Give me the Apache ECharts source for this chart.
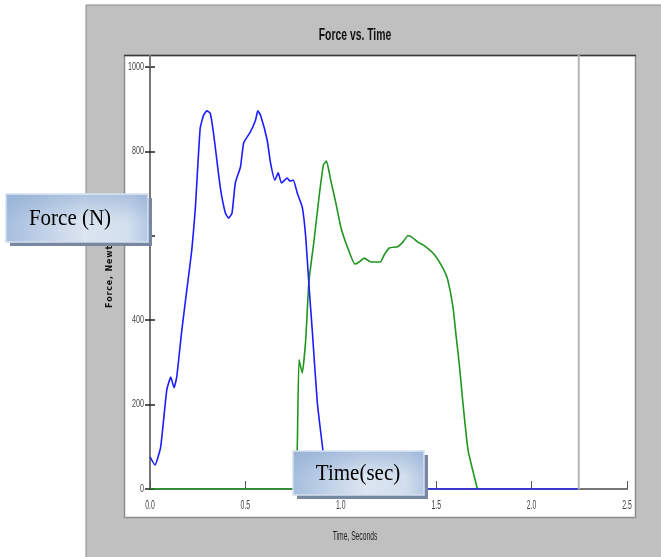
<!DOCTYPE html>
<html>
<head>
<meta charset="utf-8">
<script src="https://cdn.jsdelivr.net/npm/echarts@6/dist/echarts.min.js"></script>
<style>
html,body{margin:0;padding:0;background:#fff;}
#chart{width:661px;height:557px;}
</style>
</head>
<body>
<div id="chart"></div>
<script>
// ---- data ----
const blueTime  = [0, 0.026, 0.056, 0.088, 0.109, 0.126, 0.14, 0.167, 0.193, 0.219, 0.237, 0.263, 0.281, 0.298, 0.316, 0.333, 0.368, 0.395, 0.412, 0.43, 0.447, 0.474, 0.491, 0.526, 0.553, 0.565, 0.579, 0.614, 0.632, 0.654, 0.672, 0.689, 0.719, 0.733, 0.751, 0.772, 0.798, 0.816, 0.833, 0.851, 0.877, 0.904, 0.92, 0.94, 0.96, 2.242];
const blueForce = [76, 57, 100, 235, 265, 240, 265, 377, 472, 566, 661, 855, 886, 896, 890, 843, 716, 654, 642, 654, 725, 763, 820, 846, 874, 896, 886, 827, 772, 732, 749, 725, 737, 730, 732, 701, 668, 598, 484, 372, 204, 100, 40, 5, 0, 0];
const greenTime  = [0, 0.766, 0.772, 0.781, 0.798, 0.816, 0.833, 0.86, 0.886, 0.909, 0.925, 0.947, 0.974, 1.0, 1.035, 1.074, 1.096, 1.123, 1.158, 1.207, 1.228, 1.254, 1.298, 1.325, 1.351, 1.372, 1.404, 1.439, 1.491, 1.54, 1.561, 1.588, 1.605, 1.62, 1.64, 1.667, 1.716];
const greenForce = [0, 0, 100, 306, 275, 353, 492, 590, 692, 768, 777, 732, 678, 621, 573, 533, 538, 547, 538, 538, 555, 571, 574, 585, 600, 597, 585, 576, 555, 519, 495, 431, 360, 300, 204, 92, 0];
const cursorTime = 2.242;
const xTickValues = [0, 0.5, 1.0, 1.5, 2.0, 2.5];
const xTickLabels = ['0.0', '0.5', '1.0', '1.5', '2.0', '2.5'];
const yTickValues = [0, 200, 400, 600, 800, 1000];
const yTickLabels = ['0', '200', '400', '600', '800', '1000'];
const titleText = 'Force vs. Time';
const xName = 'Time, Seconds';
const yName = 'Force, Newtons';
const calloutY = 'Force (N)';
const calloutX = 'Time(sec)';

const SANS = '"Liberation Sans", Arial, sans-serif';
const SERIF = '"Liberation Serif", "Times New Roman", serif';

const chart = echarts.init(document.getElementById('chart'));

function pairs(xs, ys) { return xs.map((x, i) => [x, ys[i]]); }

const xMin = xTickValues[0], xMax = xTickValues[xTickValues.length - 1];
const yMin = yTickValues[0], yMax = yTickValues[yTickValues.length - 1];

chart.setOption({
  animation: false,
  backgroundColor: '#ffffff',
  grid: { left: 150, right: 34, top: 67, bottom: 68, containLabel: false },
  xAxis: [{
    type: 'value', min: xMin, max: xMax, interval: xTickValues[1] - xTickValues[0],
    axisLine: { show: true, onZero: false, lineStyle: { color: '#777', width: 2 } },
    axisTick: { show: true, inside: true, length: 8, lineStyle: { color: '#555', width: 1 } },
    axisLabel: { show: false },
    splitLine: { show: false }
  }],
  yAxis: [{
    type: 'value', min: yMin, max: yMax, interval: yTickValues[1] - yTickValues[0],
    axisLine: { show: true, lineStyle: { color: '#777', width: 2 } },
    axisTick: { show: true, inside: false, length: 5, lineStyle: { color: '#222', width: 1.5 } },
    axisLabel: { show: false },
    splitLine: { show: false }
  }, {
    type: 'value', min: yMin, max: yMax, interval: yTickValues[1] - yTickValues[0], position: 'left',
    axisLine: { show: false },
    axisTick: { show: true, inside: true, length: 5, lineStyle: { color: '#222', width: 1.5 } },
    axisLabel: { show: false },
    splitLine: { show: false }
  }],
  series: [{
    type: 'line', name: 'green', data: pairs(greenTime, greenForce),
    showSymbol: false, symbol: 'none', smooth: 0.15, z: 3,
    lineStyle: { color: '#1e961e', width: 1.6 }
  }, {
    type: 'line', name: 'blue', data: pairs(blueTime, blueForce),
    showSymbol: false, symbol: 'none', smooth: 0.15, z: 4,
    lineStyle: { color: '#1c1cff', width: 1.6 }
  }]
});

// positions from the axes
const toPx = (x, y) => chart.convertToPixel({ xAxisIndex: 0, yAxisIndex: 0 }, [x, y]);
const pTop = toPx(xMin, yMax);
const pCur = toPx(cursorTime, yMin);
const plotTop = pTop[1] - 12;

function txt(x, y, text, font, fill, align, sx, sy, extra) {
  return Object.assign({
    type: 'text', x: x, y: y, z: 10, silent: true, scaleX: sx, scaleY: sy,
    style: { text: text, font: font, fill: fill, textAlign: align, textVerticalAlign: 'middle', align: align, verticalAlign: 'middle' }
  }, extra || {});
}

function callout(x, y, w, h, text, fontSize, tx, ty, sy) {
  return {
    type: 'group', z: 200,
    children: [
      { type: 'rect', z: 200, shape: { x: x + 4, y: y + 4, width: w, height: h }, style: { fill: '#7888a0' } },
      { type: 'rect', z: 201, shape: { x: x, y: y, width: w, height: h },
        style: {
          fill: new echarts.graphic.LinearGradient(0, 0, 1, 0, [
            { offset: 0, color: '#a5bedd' }, { offset: 0.55, color: '#dce5f1' }, { offset: 0.85, color: '#d3dfee' }, { offset: 1, color: '#b3c7e3' }
          ]),
          stroke: '#d5e0ee', lineWidth: 1.5
        } },
      { type: 'rect', z: 202, shape: { x: x + 1, y: y + 1, width: w - 2, height: h * 0.55 },
        style: {
          fill: new echarts.graphic.LinearGradient(0, 0, 0, 1, [
            { offset: 0, color: 'rgba(140,170,210,0.55)' }, { offset: 1, color: 'rgba(140,170,210,0)' }
          ])
        } },
      { type: 'text', x: tx, y: ty, z: 203, scaleY: sy,
        style: { text: text, font: fontSize + 'px ' + SERIF, fill: '#000',
                 textAlign: 'center', textVerticalAlign: 'middle', align: 'center', verticalAlign: 'middle' } }
    ]
  };
}

const graphics = [
  // gray panel
  { type: 'rect', z: -10, silent: true, shape: { x: 86, y: 5, width: 580, height: 560 }, style: { fill: '#c0c0c0', stroke: '#8a8a8a', lineWidth: 1 } },
  // white plot frame
  { type: 'rect', z: -9, silent: true, shape: { x: 124.5, y: 55.5, width: 511, height: 462 }, style: { fill: '#ffffff', stroke: '#8c8c8c', lineWidth: 1.5 } },
  { type: 'line', z: -8, silent: true, shape: { x1: 124, y1: 55.5, x2: 636, y2: 55.5 }, style: { stroke: '#3a3a3a', lineWidth: 1.5 } },
  // y axis extension above the top tick
  { type: 'line', z: 1, silent: true, shape: { x1: pTop[0], y1: plotTop, x2: pTop[0], y2: pTop[1] }, style: { stroke: '#777', lineWidth: 2 } },
  // cursor line
  { type: 'line', z: 1, silent: true, shape: { x1: pCur[0] + 1, y1: plotTop, x2: pCur[0] + 1, y2: pCur[1] }, style: { stroke: '#b4b4b4', lineWidth: 2 } },
  // title
  txt(355, 35, titleText, 'bold 17px ' + SANS, '#111', 'center', 0.61, 1),
  // x axis name
  txt(355, 537, xName, '12px ' + SANS, '#222', 'center', 0.56, 1),
  // y axis name (rotated)
  { type: 'text', x: 110, y: 308, rotation: Math.PI / 2, z: 10, silent: true,
    style: { text: yName.split('').join('\u200A'), font: 'bold 8px "DejaVu Sans", sans-serif', fill: '#111', textAlign: 'left', textVerticalAlign: 'middle', align: 'left', verticalAlign: 'middle' } }
];

// tick labels placed through the axis scales
xTickValues.forEach((v, i) => {
  const p = toPx(v, yMin);
  graphics.push(txt(p[0], p[1] + 17, xTickLabels[i], '12.5px ' + SANS, '#444', 'center', 0.55, 1));
});
yTickValues.forEach((v, i) => {
  const p = toPx(xMin, v);
  graphics.push(txt(p[0] - 6, p[1], yTickLabels[i], '10.5px ' + SANS, '#444', 'right', 0.68, 1));
});

// callouts
graphics.push(callout(6, 194, 142, 48, calloutY, 21, 70, 219, 1.1));
graphics.push(callout(293, 451, 131, 44, calloutX, 21, 358, 474, 1.05));

chart.setOption({ graphic: graphics });
</script>
</body>
</html>
